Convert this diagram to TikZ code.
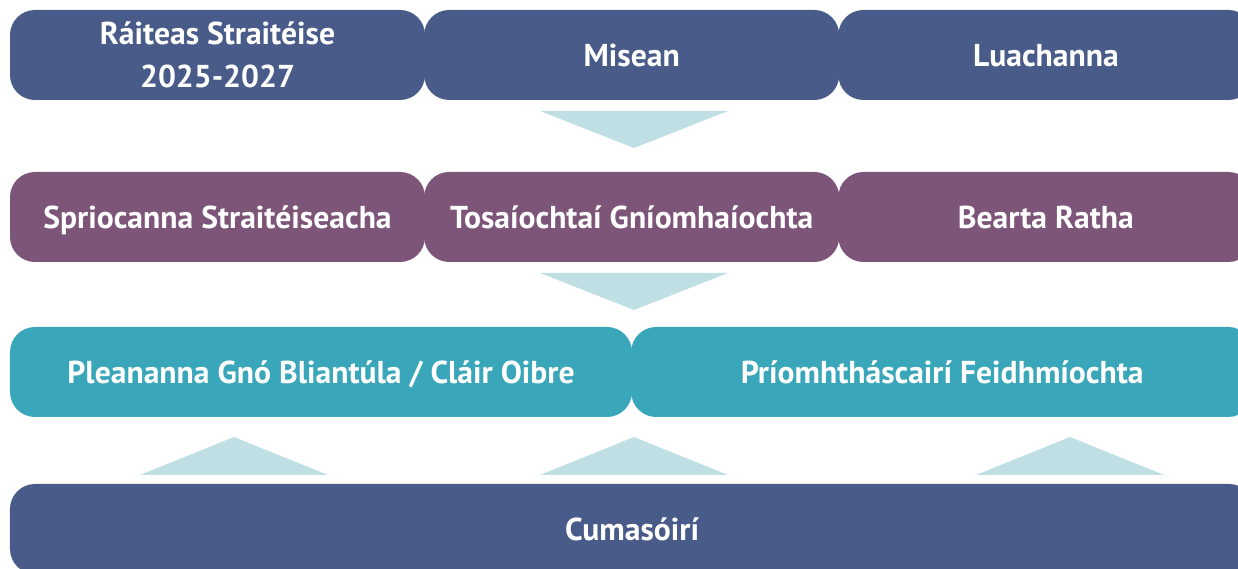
\documentclass[tikz,border=0pt]{standalone}
\usepackage{fontspec}
\setmainfont{PT Sans}
\usetikzlibrary{positioning}

\definecolor{navy}{HTML}{485B89}
\definecolor{plum}{HTML}{7D5579}
\definecolor{teal}{HTML}{3AA6BA}
\definecolor{pale}{HTML}{C0DFE5}

\begin{document}
\begin{tikzpicture}[
    kasten/.style={rounded corners=0.5cm, text=white, align=center,
      font=\fontsize{18}{24.4}\selectfont\bfseries, inner sep=0pt,
      text depth=0pt, minimum height=1.8cm},
    kurz/.style={kasten, minimum width=8.3cm},
    halb/.style={kasten, minimum width=12.44cm},
    voll/.style={kasten, minimum width=24.88cm},
    spitze/.style={fill=pale},
    node distance=-0.03cm,
  ]

  \useasboundingbox (0,0) rectangle (24.76,11.38);
  \clip (0,0) rectangle (24.76,11.38);

  % Reihe 1
  \node[kurz, fill=navy] (raiteas) at (4.35,10.28) {Ráiteas Straitéise\\2025-2027};
  \node[kurz, fill=navy, right=of raiteas] (misean) {Misean};
  \node[kurz, fill=navy, right=of misean] (luach) {Luachanna};

  \fill[spitze] (10.8,9.16) -- (14.56,9.16) -- (12.68,8.42) -- cycle;

  % Reihe 2
  \node[kurz, fill=plum] (sprioc) at (4.35,7.04) {Spriocanna Straitéiseacha};
  \node[kurz, fill=plum, right=of sprioc] (tosai) {Tosaíochtaí Gníomhaíochta};
  \node[kurz, fill=plum, right=of tosai] (bearta) {Bearta Ratha};

  \fill[spitze] (10.8,5.92) -- (14.56,5.92) -- (12.68,5.18) -- cycle;

  % Reihe 3
  \node[halb, fill=teal] (plean) at (6.42,3.94) {Pleananna Gnó Bliantúla / Cláir Oibre};
  \node[halb, fill=teal, right=of plean] (priomh) {Príomhtháscairí Feidhmíochta};

  \foreach \x in {4.68, 12.68, 21.4}
    \fill[spitze] (\x-1.88,1.88) -- (\x+1.88,1.88) -- (\x,2.64) -- cycle;

  % Reihe 4
  \node[voll, fill=navy] (cumas) at (12.64,0.8) {Cumasóirí};
\end{tikzpicture}
\end{document}
